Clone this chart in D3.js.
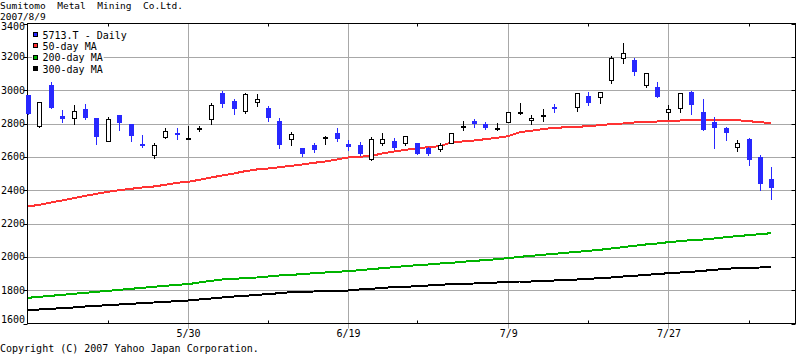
<!DOCTYPE html>
<html><head><meta charset="utf-8">
<script src="https://cdn.jsdelivr.net/npm/d3@7"></script>
<style>
html,body{margin:0;padding:0;background:#fff;}
svg{display:block;}
text{font-family:"DejaVu Sans Mono",monospace;font-size:10px;fill:#000;}
</style></head><body>
<svg id="c" width="800" height="356"></svg>
<script>
const title = "Sumitomo  Metal  Mining  Co.Ltd.";
const subtitle = "2007/8/9";
const copyright = "Copyright (C) 2007 Yahoo Japan Corporation.";

const dates = ["5/10","5/11","5/14","5/15","5/16","5/17","5/18","5/21","5/22","5/23","5/24","5/25","5/28","5/29","5/30","5/31",
  "6/1","6/4","6/5","6/6","6/7","6/8","6/11","6/12","6/13","6/14","6/15","6/18","6/19","6/20","6/21","6/22","6/25","6/26","6/27","6/28","6/29",
  "7/2","7/3","7/4","7/5","7/6","7/9","7/10","7/11","7/12","7/13","7/17","7/18","7/19","7/20","7/23","7/24","7/25","7/26","7/27","7/30","7/31",
  "8/1","8/2","8/3","8/6","8/7","8/8","8/9"];
const open  = [2970,2788,3030,2848,2836,2884,2834,2698,2850,2800,2680,2614,2722,2742,2710,2772,
  2828,2982,2936,2874,2928,2892,2814,2708,2652,2670,2714,2742,2680,2668,2586,2686,2698,2686,2682,2656,2648,
  2684,2784,2814,2800,2770,2806,2870,2822,2850,2900,2898,2962,2960,3060,3194,3184,3032,3020,2870,2894,2992,
  2872,2806,2776,2660,2710,2598,2470];
const high  = [2972,2932,3048,2880,2910,2916,2836,2842,2852,2800,2730,2682,2772,2772,2784,2784,
  2924,2998,2944,2986,2976,2902,2832,2750,2656,2682,2724,2772,2700,2688,2718,2744,2712,2728,2682,2660,2682,
  2742,2814,2824,2812,2804,2872,2922,2854,2884,2920,2984,2992,2990,3202,3286,3194,3104,3052,2912,2984,2996,
  2944,2840,2780,2704,2716,2608,2542];
const low   = [2858,2780,2894,2810,2800,2828,2680,2698,2764,2698,2660,2594,2712,2708,2708,2756,
  2800,2898,2858,2864,2904,2816,2654,2672,2604,2630,2680,2698,2644,2612,2582,2668,2646,2672,2618,2614,2636,
  2684,2760,2780,2768,2762,2806,2856,2800,2814,2868,2874,2914,2922,3040,3162,3090,3018,2958,2830,2868,2860,
  2760,2652,2700,2634,2554,2400,2346];
const close = [2860,2932,2894,2828,2876,2836,2720,2824,2804,2728,2664,2674,2758,2732,2714,2772,
  2910,2920,2888,2976,2950,2834,2670,2736,2616,2640,2718,2706,2660,2618,2710,2710,2652,2728,2618,2618,2674,
  2742,2786,2796,2772,2772,2872,2872,2836,2852,2896,2980,2922,2990,3194,3224,3108,3104,2958,2888,2984,2910,
  2764,2772,2742,2684,2580,2436,2412];
const ma50  = [2302,2312,2326,2338,2352,2366,2378,2390,2400,2408,2416,2422,2432,2444,2450,2462,
  2476,2488,2500,2514,2524,2530,2538,2546,2554,2564,2572,2584,2596,2600,2606,2620,2632,2642,2650,2658,2664,
  2686,2692,2698,2706,2714,2724,2748,2756,2766,2774,2780,2784,2790,2796,2800,2806,2808,2812,2814,2818,2820,
  2820,2820,2820,2820,2814,2808,2802];
const ma200 = [1754,1760,1766,1772,1778,1784,1790,1796,1802,1808,1814,1820,1826,1832,1836,1846,
  1856,1864,1868,1872,1876,1882,1888,1892,1896,1902,1906,1910,1914,1920,1926,1932,1938,1944,1950,1954,1960,
  1964,1970,1976,1980,1986,1992,2000,2006,2012,2018,2030,2036,2042,2050,2058,2066,2074,2080,2088,2094,2100,
  2104,2110,2118,2124,2130,2136,2142];
const ma300 = [1678,1684,1688,1692,1696,1702,1706,1710,1714,1718,1722,1726,1730,1734,1738,1744,
  1750,1756,1762,1766,1772,1776,1782,1788,1790,1792,1794,1796,1798,1804,1808,1814,1818,1820,1824,1828,1832,
  1836,1838,1840,1842,1846,1848,1852,1852,1856,1858,1864,1868,1872,1876,1882,1886,1892,1896,1902,1906,1910,
  1916,1922,1928,1932,1934,1936,1938];

const yTicks = [1600,1800,2000,2200,2400,2600,2800,3000,3200,3400];
const xLabelDates = ["5/30","6/19","7/9","7/27"];
const xMinorDates = ["5/21","6/8","6/27","7/18","8/7"];
const legendLabels = ["5713.T - Daily","50-day MA","200-day MA","300-day MA"];
const legendColors = ["#2828ff","#ff3333","#00b400","#000000"];

const BLUE = "#2828ff", GRID = "#a8a8a8";
const svg = d3.select("#c");
const L = 27.5, R = 795.5, T = 23.5, B = 323.5;

// business-day index (weekdays) from first date
const parse = s => { const [m,d] = s.split("/").map(Number); return new Date(2007, m-1, d); };
const start = parse(dates[0]);
const bday = s => d3.timeDay.range(start, parse(s)).filter(d => d.getDay() !== 0 && d.getDay() !== 6).length;
const idx = dates.map(bday);

const x = d3.scaleLinear().domain([0, idx[idx.length-1]]).range([27.8, 771.4]);
const y = d3.scaleLinear().domain([1600, 3400]).range([B, T]);

// horizontal grid
svg.append("g").selectAll("line").data(yTicks.filter(v => v > 1600 && v < 3400)).join("line")
  .attr("x1", L).attr("x2", R)
  .attr("y1", d => Math.round(y(d)) + 0.5).attr("y2", d => Math.round(y(d)) + 0.5)
  .attr("stroke", GRID).attr("stroke-width", 1);
// vertical grid at labelled dates
svg.append("g").selectAll("line").data(xLabelDates).join("line")
  .attr("x1", d => Math.round(x(bday(d))) + 0.5).attr("x2", d => Math.round(x(bday(d))) + 0.5)
  .attr("y1", T).attr("y2", B + 5)
  .attr("stroke", GRID).attr("stroke-width", 1);

// frame
svg.append("rect").attr("x", L).attr("y", T).attr("width", R - L).attr("height", B - T)
  .attr("fill", "none").attr("stroke", "#000").attr("stroke-width", 1);

// y ticks & labels
svg.append("g").selectAll("line").data(yTicks).join("line")
  .attr("x1", L - 4).attr("x2", L)
  .attr("y1", d => Math.round(y(d)) + 0.5).attr("y2", d => Math.round(y(d)) + 0.5)
  .attr("stroke", "#000");
svg.append("g").selectAll("line").data(yTicks).join("line")
  .attr("x1", R - 4).attr("x2", R)
  .attr("y1", d => Math.round(y(d)) + 0.5).attr("y2", d => Math.round(y(d)) + 0.5)
  .attr("stroke", "#000");
svg.append("g").selectAll("text").data(yTicks).join("text")
  .attr("x", 1)
  .attr("y", d => Math.min(Math.max(y(d), 26.5), 319) + 3.6)
  .text(d => d);

// minor x ticks (top and bottom)
const mg = svg.append("g");
xMinorDates.forEach(d => {
  const px = Math.round(x(bday(d))) + 0.5;
  mg.append("line").attr("x1", px).attr("x2", px).attr("y1", T).attr("y2", T + 3).attr("stroke", "#000");
  mg.append("line").attr("x1", px).attr("x2", px).attr("y1", B - 3).attr("y2", B).attr("stroke", "#000");
});
// x labels
svg.append("g").selectAll("text").data(xLabelDates).join("text")
  .attr("x", d => x(bday(d)) + 0.5).attr("y", 336.5).attr("text-anchor", "middle")
  .text(d => d);

// moving averages
const maSeries = [[ma300, "#000000"], [ma200, "#00b400"], [ma50, "#ff3333"]];
maSeries.forEach(([arr, col]) => {
  const line = d3.line().x((d, i) => x(idx[i])).y(d => y(d));
  svg.append("path").attr("d", line(arr)).attr("fill", "none")
    .attr("stroke", col).attr("stroke-width", 2).attr("shape-rendering", "crispEdges");
});

// candles
const cg = svg.append("g");
dates.forEach((d, i) => {
  const c = Math.round(x(idx[i]));
  const o = open[i], cl = close[i], h = high[i], l = low[i];
  const down = cl < o;
  const col = down ? BLUE : "#000";
  cg.append("line").attr("x1", c + 0.5).attr("x2", c + 0.5)
    .attr("y1", Math.round(y(h))).attr("y2", Math.round(y(l)) + 1)
    .attr("stroke", col).attr("stroke-width", 1).attr("shape-rendering", "crispEdges");
  const top = Math.round(y(Math.max(o, cl)));
  const bot = Math.round(y(Math.min(o, cl)));
  if (down) {
    cg.append("rect").attr("x", c - 2).attr("y", top).attr("width", 5).attr("height", Math.max(2, bot - top))
      .attr("fill", BLUE).attr("shape-rendering", "crispEdges");
  } else {
    cg.append("rect").attr("x", c - 1.5).attr("y", top + 0.5).attr("width", 4).attr("height", Math.max(1, bot - top))
      .attr("fill", "#fff").attr("stroke", "#000").attr("stroke-width", 1);
  }
});

// legend
const lg = svg.append("g");
legendLabels.forEach((t, i) => {
  const cy = 35 + i * 11.3;
  const tx = lg.append("text").attr("x", 42.5).attr("y", cy + 3.6).text(t);
  const bb = tx.node().getBBox();
  lg.insert("rect", "text").attr("x", 32).attr("y", cy - 5).attr("width", bb.x + bb.width - 32 + 1).attr("height", 10).attr("fill", "#fff");
  lg.append("rect").attr("x", 33.5).attr("y", Math.round(cy) - 2.5).attr("width", 4).attr("height", 4)
    .attr("fill", legendColors[i]).attr("stroke", "#000").attr("stroke-width", 1);
});

// titles
svg.append("text").attr("x", 0).attr("y", 8.6).style("font-size", "9.5px").attr("xml:space", "preserve").style("white-space", "pre").text(title);
svg.append("text").attr("x", 0).attr("y", 19.5).style("font-size", "9.5px").text(subtitle);
svg.append("text").attr("x", 0).attr("y", 352).text(copyright);
</script>
</body></html>
